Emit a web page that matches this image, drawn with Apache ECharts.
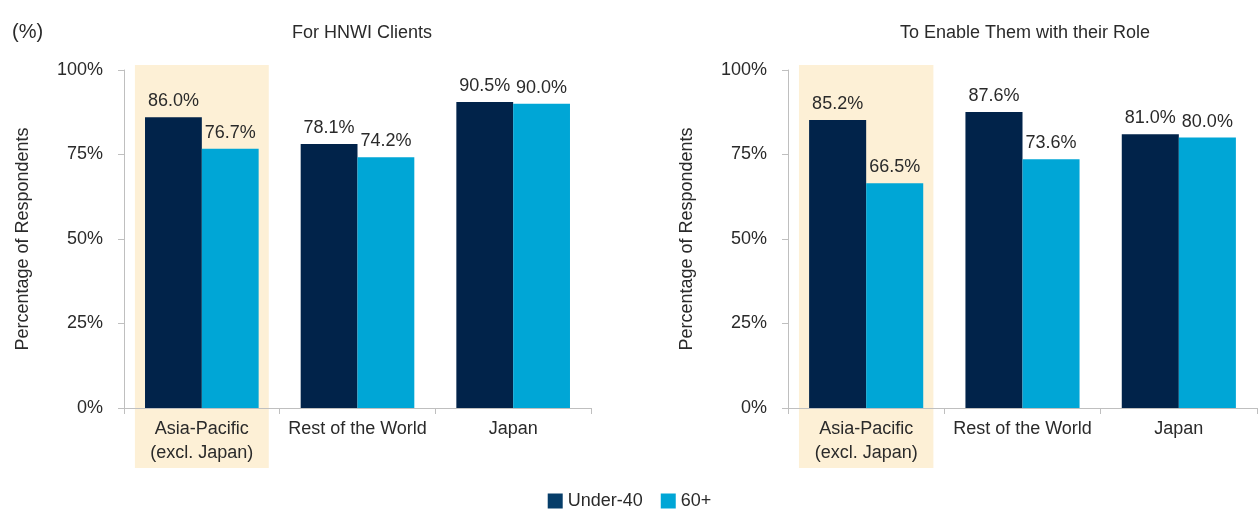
<!DOCTYPE html>
<html>
<head>
<meta charset="utf-8">
<script src="https://cdn.jsdelivr.net/npm/echarts@6/dist/echarts.min.js"></script>
<style>
html,body{margin:0;padding:0;background:#fff;}
#chart{width:1259px;height:509px;}
</style>
</head>
<body>
<div id="chart"></div>
<script>
const categories = ['Asia-Pacific\n(excl. Japan)', 'Rest of the World', 'Japan'];
const highlighted = ['Asia-Pacific\n(excl. Japan)'];
const titles = ['For HNWI Clients', 'To Enable Them with their Role'];
const seriesNames = ['Under-40', '60+'];
const clientsUnder40 = [86.0, 78.1, 90.5];
const clients60 = [76.7, 74.2, 90.0];
const roleUnder40 = [85.2, 87.6, 81.0];
const role60 = [66.5, 73.6, 80.0];
const yTicks = [0, 25, 50, 75, 100];

const FONT = 'Liberation Sans, Arial, sans-serif';
const TXT = '#2a2a2a';
const DARK = '#01234a';
const LIGHT = '#00a6d6';
const BAND = '#fdf0d6';
const AXIS = '#bfbfbf';

const chart = echarts.init(document.getElementById('chart'), null, {renderer: 'canvas'});

const grids = [
  {left: 124, width: 467, top: 70, height: 338},
  {left: 788, width: 469, top: 70, height: 338}
];

function xAxisFor(i) {
  return {
    type: 'category', gridIndex: i, data: categories, z: 5,
    axisLine: {lineStyle: {color: AXIS, width: 1}},
    axisTick: {show: true, length: 6, lineStyle: {color: AXIS}},
    axisLabel: {color: TXT, fontFamily: FONT, fontSize: 18, lineHeight: 24, margin: 9, interval: 0}
  };
}
function yAxisFor(i) {
  return {
    type: 'value', gridIndex: i, min: yTicks[0], max: yTicks[yTicks.length - 1], interval: 25, z: 5,
    name: 'Percentage of Respondents', nameLocation: 'middle', nameGap: 92,
    nameTextStyle: {color: TXT, fontFamily: FONT, fontSize: 18},
    axisLine: {show: true, lineStyle: {color: AXIS, width: 1}},
    axisTick: {show: true, length: 6, lineStyle: {color: AXIS}},
    splitLine: {show: false},
    axisLabel: {color: TXT, fontFamily: FONT, fontSize: 18, margin: 21, formatter: '{value}%'}
  };
}
function bandSeries(i) {
  return {
    type: 'custom', xAxisIndex: i, yAxisIndex: i, z: 1, silent: true, clip: false,
    data: highlighted.map(c => [categories.indexOf(c)]),
    encode: {x: 0},
    renderItem: function (params, api) {
      const idx = api.value(0);
      const top = api.coord([idx, 100]);
      const bottom = api.coord([idx, 0]);
      const bw = api.size([1, 0])[0];
      const w = bw * 0.86;
      return {
        type: 'rect',
        shape: {x: top[0] - w / 2, y: top[1] - 5, width: w, height: bottom[1] - top[1] + 65},
        style: {fill: BAND}
      };
    }
  };
}
function barSeries(i, name, vals, color) {
  return {
    type: 'bar', name: name, xAxisIndex: i, yAxisIndex: i, z: 2, data: vals,
    barGap: '0%', barCategoryGap: '27%',
    itemStyle: {color: color},
    label: {show: true, position: 'top', distance: 7, color: TXT, fontFamily: FONT, fontSize: 18,
      formatter: p => p.value.toFixed(1) + '%'}
  };
}

const option = {
  backgroundColor: '#fff',
  animation: false,
  title: [
    {text: '(%)', left: 7, top: 17, textStyle: {color: TXT, fontFamily: FONT, fontSize: 20, fontWeight: 'normal'}},
    {text: titles[0], left: 357, textAlign: 'center', top: 19, textStyle: {color: TXT, fontFamily: FONT, fontSize: 18, fontWeight: 'normal'}},
    {text: titles[1], left: 1020, textAlign: 'center', top: 19, textStyle: {color: TXT, fontFamily: FONT, fontSize: 18, fontWeight: 'normal'}}
  ],
  legend: {
    data: [
      {name: seriesNames[0], itemStyle: {color: '#063d69'}},
      {name: seriesNames[1], itemStyle: {color: LIGHT}}
    ],
    left: 'center', top: 487, icon: 'rect', itemWidth: 15, itemHeight: 15, itemGap: 18,
    textStyle: {color: TXT, fontFamily: FONT, fontSize: 18}
  },
  grid: grids,
  xAxis: [xAxisFor(0), xAxisFor(1)],
  yAxis: [yAxisFor(0), yAxisFor(1)],
  series: [
    bandSeries(0), bandSeries(1),
    barSeries(0, seriesNames[0], clientsUnder40, DARK),
    barSeries(0, seriesNames[1], clients60, LIGHT),
    barSeries(1, seriesNames[0], roleUnder40, DARK),
    barSeries(1, seriesNames[1], role60, LIGHT)
  ]
};
chart.setOption(option);
</script>
</body>
</html>
